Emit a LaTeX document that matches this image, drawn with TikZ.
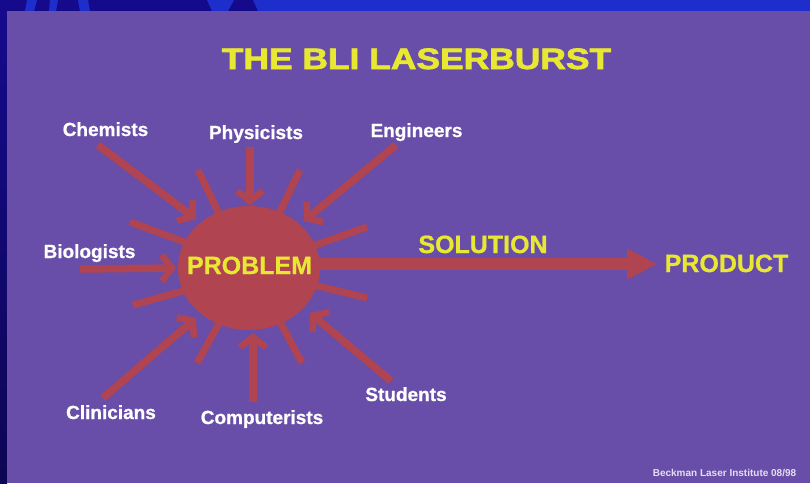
\documentclass[tikz,border=0pt]{standalone}
\usepackage{fontspec}
\setmainfont{Liberation Sans}
\newfontfamily\heavyfont{Liberation Sans}[BoldFeatures={FakeBold=2.2}]
\newfontfamily\semifont{Liberation Sans}[BoldFeatures={FakeBold=0.8}]
\usetikzlibrary{arrows.meta,shapes.geometric}
\definecolor{slide}{RGB}{104,78,168}
\definecolor{navy}{RGB}{22,10,140}
\definecolor{blu}{RGB}{30,46,205}
\definecolor{burst}{RGB}{176,68,80}
\definecolor{ylw}{RGB}{232,232,50}
\definecolor{foot}{RGB}{228,222,242}
\begin{document}
\begin{tikzpicture}[x=1pt,y=-1pt,
  lbl/.style={text=white,font=\semifont\bfseries\fontsize{19}{19}\selectfont,inner sep=0pt,anchor=base},
  ylbl/.style={text=ylw,font=\semifont\bfseries\fontsize{25}{25}\selectfont,inner sep=0pt,anchor=base},
  feed/.style={draw=burst,line width=7.5pt,-{Straight Barb[length=10pt,width=26pt,line width=6.5pt]}},
  spike/.style={draw=burst,line width=7pt},
]
\useasboundingbox (0,0) rectangle (810,483);
% background: blue border with map-like splotches
\fill[navy] (0,0) rectangle (810,483);
\fill[blu] (290,0) rectangle (810,11);
\fill[blu] (27,0) -- (37,0) -- (34,11) -- (25,11) -- cycle;
\fill[blu] (50,0) -- (58,0) -- (56,11) -- (49,11) -- cycle;
\fill[blu] (78,0) -- (88,0) -- (90,11) -- (80,11) -- cycle;
\fill[blu] (207,0) -- (234,0) -- (228,11) -- (212,11) -- cycle;
\fill[blu] (253,0) -- (290,0) -- (290,11) -- (258,11) -- cycle;
\shade[top color=navy, bottom color=navy!60!black] (0,11) rectangle (7,483);
\fill[slide] (7,11) rectangle (810,483);

% title
\node[text=ylw,font=\heavyfont\bfseries\fontsize{29.5}{29.5}\selectfont,inner sep=0pt,anchor=base] (title) at (416.5,69) {\scalebox{1.2}[1]{THE BLI LASERBURST}};

% labels
\node[lbl] (chem) at (105.5,136) {Chemists};
\node[lbl] (phys) at (256,139) {Physicists};
\node[lbl] (engi) at (416.5,137) {Engineers};
\node[lbl] (biol) at (89.5,258) {Biologists};
\node[lbl] (clin) at (111,419) {Clinicians};
\node[lbl] (comp) at (262,424) {Computerists};
\node[lbl] (stud) at (406,401) {Students};

% arrow ends
\coordinate (chemS) at (98,145);   \coordinate (chemE) at (196,219);
\coordinate (physS) at (250,147);  \coordinate (physE) at (250,205);
\coordinate (engiS) at (396,145);  \coordinate (engiE) at (304,221);
\coordinate (biolS) at (80,269);   \coordinate (biolE) at (176,268);
\coordinate (clinS) at (103,398);  \coordinate (clinE) at (196,318);
\coordinate (compS) at (253,402);  \coordinate (compE) at (253,333);
\coordinate (studS) at (391,381);  \coordinate (studE) at (310,313);

% spikes
\draw[spike] (198,170) -- (222,220);
\draw[spike] (300,170) -- (276,220);
\draw[spike] (130,222) -- (190,244);
\draw[spike] (367,227) -- (310,247);
\draw[spike] (133,305) -- (190,289);
\draw[spike] (367,298) -- (310,284);
\draw[spike] (197,363) -- (222,318);
\draw[spike] (302,363) -- (278,318);

% feeding arrows
\draw[feed] (chemS) -- (chemE);
\draw[feed] (physS) -- (physE);
\draw[feed] (engiS) -- (engiE);
\draw[feed] (biolS) -- (biolE);
\draw[feed] (clinS) -- (clinE);
\draw[feed] (compS) -- (compE);
\draw[feed] (studS) -- (studE);

% core
\node[ellipse,fill=burst,minimum width=142pt,minimum height=124pt,inner sep=0pt] (core) at (249,268) {};
\node[ylbl] (prob) at (249.5,274) {PROBLEM};

% solution arrow
\node[ylbl] (prod) at (726.5,272) {PRODUCT};
\coordinate (solS) at (312,264);
\coordinate (solE) at (657,264);
\draw[draw=burst,line width=12pt,-{Triangle[length=30pt,width=29pt]}] (solS) -- (solE);
\node[ylbl] (solu) at (483,253) {SOLUTION};

% footer
\node[text=foot,font=\bfseries\fontsize{10}{10}\selectfont,inner sep=0pt,anchor=base] (foot) at (724.5,476) {Beckman Laser Institute 08/98};
\end{tikzpicture}
\end{document}
